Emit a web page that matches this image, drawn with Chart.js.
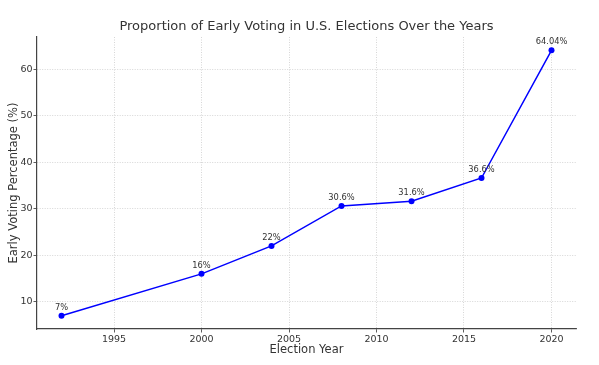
<!DOCTYPE html>
<html>
<head>
<meta charset="utf-8">
<script src="https://cdn.jsdelivr.net/npm/chart.js@4"></script>
<style>
  html, body { margin: 0; padding: 0; background: #fff; }
  #wrap { width: 599px; height: 365px; }
</style>
</head>
<body>
<div id="wrap"><canvas id="earlyVotingChart"></canvas></div>
<script>
// Early voting share by election year
const years = [1992, 2000, 2004, 2008, 2012, 2016, 2020];
const earlyVotingPct = [7, 16, 22, 30.6, 31.6, 36.6, 64.04];
const xTicks = [1995, 2000, 2005, 2010, 2015, 2020];
const yTicks = [10, 20, 30, 40, 50, 60];

const FONT = 'DejaVu Sans';
const TEXT = '#333333';

// draws "NN%" above each point
const pointLabels = {
    id: 'pointLabels',
    afterDatasetsDraw(chart) {
        const ctx = chart.ctx;
        const meta = chart.getDatasetMeta(0);
        ctx.save();
        ctx.font = '8.3px "' + FONT + '"';
        ctx.fillStyle = TEXT;
        ctx.textAlign = 'center';
        ctx.textBaseline = 'middle';
        meta.data.forEach((pt, i) => {
            ctx.fillText(earlyVotingPct[i] + '%', pt.x, pt.y - 8);
        });
        ctx.restore();
    }
};

const ctx = document.getElementById('earlyVotingChart').getContext('2d');
const earlyVotingChart = new Chart(ctx, {
    type: 'line',
    data: {
        datasets: [{
            data: years.map((y, i) => ({ x: y, y: earlyVotingPct[i] })),
            borderColor: '#0000ff',
            backgroundColor: '#0000ff',
            borderWidth: 1.5,
            pointRadius: 3,
            pointBorderWidth: 0,
            fill: false,
            tension: 0
        }]
    },
    options: {
        responsive: true,
        maintainAspectRatio: false,
        animation: false,
        layout: { padding: { left: 0, right: 23, top: 0, bottom: 0 } },
        plugins: {
            legend: { display: false },
            tooltip: { enabled: false },
            title: {
                display: true,
                fullSize: false,
                text: 'Proportion of Early Voting in U.S. Elections Over the Years',
                color: TEXT,
                font: { family: FONT, size: 13, weight: 'normal' },
                padding: { top: 19, bottom: 2.4 }
            }
        },
        scales: {
            x: {
                type: 'linear',
                min: 1990.6,
                max: 2021.4,
                afterBuildTicks: s => { s.ticks = xTicks.map(v => ({ value: v })); },
                afterFit: s => { s.height = 36; },
                ticks: {
                    color: TEXT, font: { family: FONT, size: 9.5 }, padding: 1, maxRotation: 0,
                    callback: v => String(v)
                },
                grid: { color: '#cccccc', lineWidth: 0.8, tickLength: 3.5, tickColor: TEXT, tickBorderDash: [] },
                border: { display: true, color: '#444', width: 1.2, dash: [1, 1.5] },
                title: {
                    display: true, text: 'Election Year', color: TEXT,
                    font: { family: FONT, size: 11.5 }, padding: { top: 0, bottom: 8 }
                }
            },
            y: {
                min: 4.15,
                max: 66.9,
                afterBuildTicks: s => { s.ticks = yTicks.map(v => ({ value: v })); },
                afterFit: s => { s.width = 37; },
                ticks: { color: TEXT, font: { family: FONT, size: 9.5 }, padding: 1 },
                grid: { color: '#cccccc', lineWidth: 0.8, tickLength: 3.5, tickColor: TEXT, tickBorderDash: [] },
                border: { display: true, color: '#444', width: 1.2, dash: [1, 1.5] },
                title: {
                    display: true, text: 'Early Voting Percentage (%)', color: TEXT,
                    font: { family: FONT, size: 11.5 }, padding: { top: 7, bottom: 0 }
                }
            }
        }
    },
    plugins: [pointLabels]
});
</script>
</body>
</html>
